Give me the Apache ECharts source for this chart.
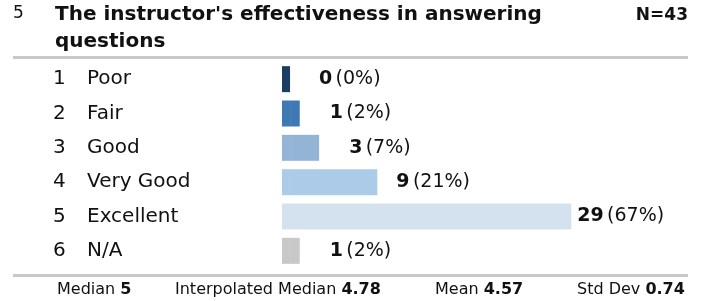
<!DOCTYPE html>
<html>
<head>
<meta charset="utf-8">
<script src="https://cdn.jsdelivr.net/npm/echarts@6/dist/echarts.min.js"></script>
<style>
  html, body { margin: 0; padding: 0; background: #fff; }
  #main { width: 706px; height: 301px; }
</style>
</head>
<body>
<div id="main"></div>
<script>
var itemNo = '5';
var question = ["The instructor's effectiveness in answering", 'questions'];
var total = 43;
var codes = ['1', '2', '3', '4', '5', '6'];
var categories = ['Poor', 'Fair', 'Good', 'Very Good', 'Excellent', 'N/A'];
var counts = [0, 1, 3, 9, 29, 1];
var percents = [0, 2, 7, 21, 67, 2];
var barColors = ['#1c3d63', '#3e79b3', '#94b4d6', '#abcbe9', '#d4e2ef', '#c8c8c8'];
var labelGap = [29, 30, 30, 19, 6, 30];
var statNames = ['Median', 'Interpolated Median', 'Mean', 'Std Dev'];
var statValues = ['5', '4.78', '4.57', '0.74'];

var myChart = echarts.init(document.getElementById('main'));

// small stub so that empty answers still show a sliver of bar
var stub = 0.83;

var option = {
    animation: false,
    grid: { left: 282, right: 7, top: 62, bottom: 33, containLabel: false },
    xAxis: {
        type: 'value', min: 0, max: total,
        show: false
    },
    yAxis: {
        type: 'category',
        inverse: true,
        data: categories,
        axisLine: { show: false },
        axisTick: { show: false },
        axisLabel: {
            align: 'left',
            margin: 229,
            formatter: function (v, i) {
                return '{n|' + codes[i] + '}{t|' + v + '}';
            },
            rich: {
                n: { width: 34, fontFamily: 'DejaVu Sans', fontSize: 20, color: '#111' },
                t: { fontFamily: 'DejaVu Sans', fontSize: 20, color: '#111' }
            }
        }
    },
    series: [
        {
            type: 'bar', stack: 'a', barWidth: 26,
            data: counts.map(function () { return stub; }),
            itemStyle: { color: function (p) { return barColors[p.dataIndex]; } },
            silent: true
        },
        {
            type: 'bar', stack: 'a', barWidth: 26,
            data: counts.map(function (c, i) {
                return {
                    value: c,
                    label: { distance: labelGap[i] }
                };
            }),
            itemStyle: { color: function (p) { return barColors[p.dataIndex]; } },
            label: {
                show: true,
                position: 'right',
                formatter: function (p) {
                    return '{b|' + counts[p.dataIndex] + '} {p|(' + percents[p.dataIndex] + '%)}';
                },
                rich: {
                    b: { fontFamily: 'DejaVu Sans', fontSize: 19, fontWeight: 'bold', color: '#111' },
                    p: { fontFamily: 'DejaVu Sans', fontSize: 19, color: '#111' }
                }
            }
        }
    ],
    graphic: [
        { type: 'text', left: 13, top: 5, style: { text: itemNo, font: '17px "DejaVu Sans"', fill: '#111' } },
        { type: 'text', left: 55, top: 5, style: { text: question[0], font: 'bold 20px "DejaVu Sans"', fill: '#111' } },
        { type: 'text', left: 55, top: 32, style: { text: question[1], font: 'bold 20px "DejaVu Sans"', fill: '#111' } },
        { type: 'text', right: 18, top: 7, style: { text: 'N=' + total, font: 'bold 17px "DejaVu Sans"', fill: '#111' } },
        { type: 'line', shape: { x1: 13, y1: 57.5, x2: 688, y2: 57.5 }, style: { stroke: '#c8c8c8', lineWidth: 3 } },
        { type: 'line', shape: { x1: 13, y1: 275.5, x2: 688, y2: 275.5 }, style: { stroke: '#c8c8c8', lineWidth: 3 } }
    ]
};

var statX = [57, 175, 435, 577];
statNames.forEach(function (s, i) {
    option.graphic.push({
        type: 'text', left: statX[i], top: 282,
        style: {
            text: '{n|' + s + ' }{b|' + statValues[i] + '}',
            rich: {
                n: { fontFamily: 'DejaVu Sans', fontSize: 16, fill: '#111' },
                b: { fontFamily: 'DejaVu Sans', fontSize: 16, fontWeight: 'bold', fill: '#111' }
            }
        }
    });
});

myChart.setOption(option);
</script>
</body>
</html>
